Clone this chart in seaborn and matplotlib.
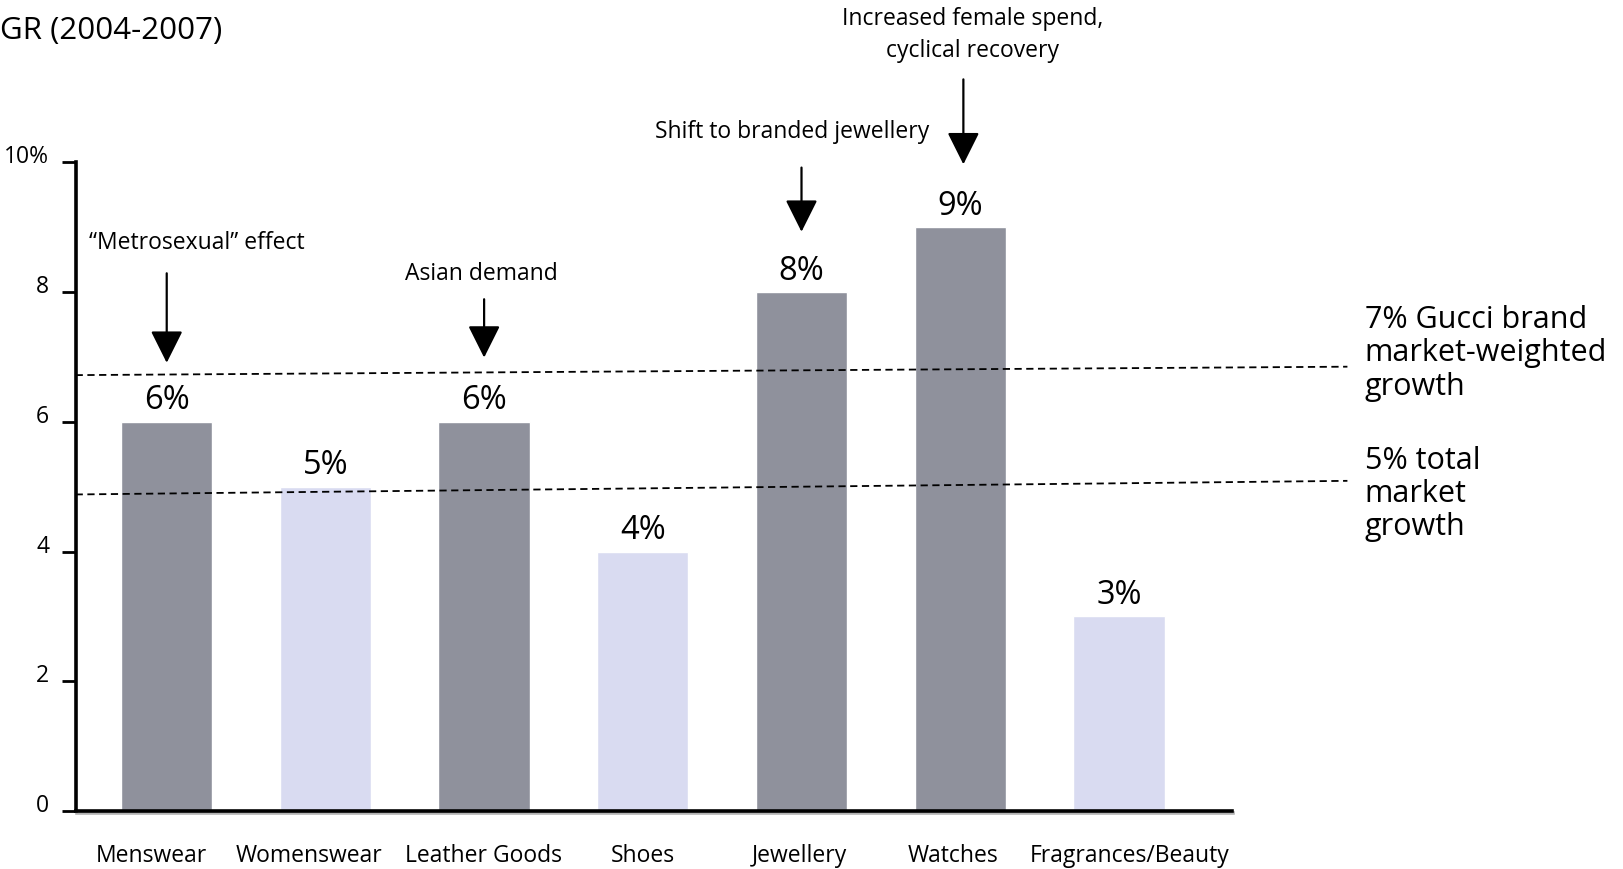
import matplotlib
matplotlib.use("Agg")
import matplotlib.pyplot as plt
import matplotlib.transforms as mtransforms
import matplotlib.patheffects as pe
import seaborn as sns
import pandas as pd

# Category growth rates, CAGR 2004-2007 (%)
categories = ["Menswear", "Womenswear", "Leather Goods", "Shoes",
              "Jewellery", "Watches", "Fragrances/Beauty"]
growth = [6, 5, 6, 4, 8, 9, 3]
highlight = [True, False, True, False, True, True, False]
value_labels = ["6%", "5%", "6%", "4%", "8%", "9%", "3%"]

ytick_values = [0, 2, 4, 6, 8, 10]
ytick_labels = ["0", "2", "4", "6", "8", "10%"]

# Reference growth lines (start, end)
gucci_weighted = [6.72, 6.85]
total_market = [4.88, 5.09]

# Driver call-outs: (text, arrow x, text y, arrow tail y, arrow head y, text x)
callouts = [
    ("\u201cMetrosexual\u201d effect", 0, 8.77, 8.29, 6.91, 0.19),
    ("Asian demand", 2, 8.29, 7.89, 6.99, 1.98),
    ("Shift to branded jewellery", 4, 10.48, 9.92, 8.93, 3.94),
    ("Increased female spend,\ncyclical recovery", 5.02, 11.98, 11.28, 9.97, 5.08),
]

DARK = "#8f919c"
LIGHT = "#d9dbf1"

# horizontal nudges (pixels) for the category labels
label_nudge_px = [-15, -16, -1, 0, -2, -7, 11]

sns.set_theme(style="white")
plt.rcParams["font.family"] = ["Open Sans", "DejaVu Sans"]

df = pd.DataFrame({"category": categories, "growth": growth,
                   "color": [DARK if h else LIGHT for h in highlight]})
palette = dict(zip(df["category"], df["color"]))

fig = plt.figure(figsize=(16.23, 8.70), dpi=100)
ax = fig.add_axes([0.0466, 0.0667, 0.7836, 0.7455])

sns.barplot(data=df, x="category", y="growth", hue="category", palette=palette,
            order=categories, width=0.575, saturation=1, legend=False, ax=ax)

ax.set_xlim(-0.574, 7.44)
ax.set_ylim(0, 10)
ax.set_xlabel("")
ax.set_ylabel("")

for side in ("top", "right"):
    ax.spines[side].set_visible(False)
ax.spines["left"].set_bounds(0, 10)
ax.spines["bottom"].set_bounds(-0.574, 6.71)
for side in ("left", "bottom"):
    ax.spines[side].set_color("black")
    ax.spines[side].set_linewidth(2.6)
ax.spines["bottom"].set_path_effects([
    pe.SimpleLineShadow(offset=(1, -1.5), shadow_color="gray", alpha=0.6),
    pe.Normal()])

ax.set_yticks(ytick_values)
ax.set_yticklabels(ytick_labels)
ax.tick_params(axis="y", direction="out", length=10, width=2, color="black",
               left=True, pad=9, labelsize=16.5, labelcolor="black")
ax.tick_params(axis="x", length=0, pad=23, labelsize=16.5, labelcolor="black")

# lift the y tick labels slightly above their ticks
shift = mtransforms.ScaledTranslation(0, 9 / 100, fig.dpi_scale_trans)
for lbl in ax.get_yticklabels():
    lbl.set_transform(lbl.get_transform() + shift)

for lbl, dx in zip(ax.get_xticklabels(), label_nudge_px):
    lbl.set_transform(lbl.get_transform() +
                      mtransforms.ScaledTranslation(dx / 100, 0, fig.dpi_scale_trans))

# value labels above bars
for i, (v, txt) in enumerate(zip(growth, value_labels)):
    ax.annotate(txt, xy=(i, v), xytext=(0, 4), textcoords="offset points",
                ha="center", va="bottom", fontsize=23.5, color="black")

# reference growth lines extending to the right-hand notes
ax.plot([-0.574, 7.44], gucci_weighted, ls=(0, (4, 2.5)), lw=1.3,
        color="black", clip_on=False)
ax.plot([-0.574, 7.44], total_market, ls=(0, (4, 2.5)), lw=1.3,
        color="black", clip_on=False)

ax.text(7.55, 7.07, "7% Gucci brand\nmarket-weighted\ngrowth", ha="left",
        va="center", fontsize=22, linespacing=1.16, color="black")
ax.text(7.55, 4.91, "5% total\nmarket\ngrowth", ha="left", va="center",
        fontsize=22, linespacing=1.13, color="black")

# driver call-outs with arrows
for text, xi, ty, tail, head, tx in callouts:
    ax.text(tx, ty, text, ha="center", va="center", fontsize=16.5,
            linespacing=1.4, color="black")
    ax.annotate("", xy=(xi, head), xytext=(xi, tail), annotation_clip=False,
                arrowprops=dict(arrowstyle="-|>,head_length=1.0,head_width=0.5",
                                mutation_scale=20, lw=1.6, color="black",
                                shrinkA=0, shrinkB=0))

fig.text(0.0, 1 - 31 / 870, "GR (2004-2007)", ha="left", va="center",
         fontsize=22.5, color="black")

fig.savefig("out.png", dpi=100)
